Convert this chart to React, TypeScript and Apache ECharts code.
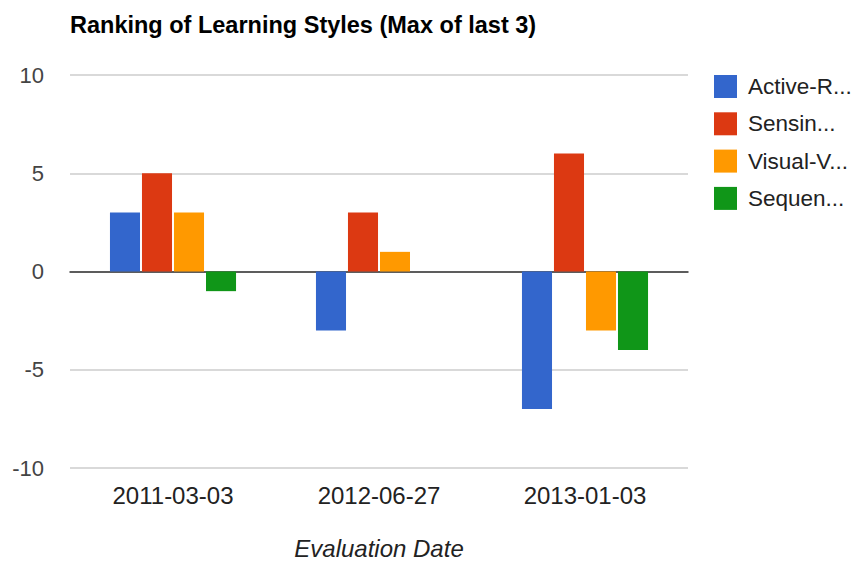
import React, { useEffect, useRef } from "react";
import * as echarts from "echarts";

const categories = ["2011-03-03", "2012-06-27", "2013-01-03"];
const seriesNames = ["Active-R...", "Sensin...", "Visual-V...", "Sequen..."];
const activeR = [3, -3, -7];
const sensing = [5, 3, 6];
const visualV = [3, 1, -3];
const sequential = [-1, 0, -4];
const colors = ["#3366cc", "#dc3912", "#ff9900", "#109618"];
const yTicks = { min: -10, max: 10, interval: 5 };

const FONT = "'Liberation Sans', Arial, sans-serif";

export default function App() {
  const ref = useRef<HTMLDivElement>(null);
  useEffect(() => {
    if (!ref.current) return;
    const chart = echarts.init(ref.current, undefined, { renderer: "svg" });
    const values = [activeR, sensing, visualV, sequential];
    chart.setOption({
      animation: false,
      title: {
        text: "Ranking of Learning Styles (Max of last 3)",
        left: 65,
        top: 8,
        textStyle: { fontFamily: FONT, fontSize: 23.5, fontWeight: "bold", color: "#000" },
      },
      legend: {
        orient: "vertical",
        left: 709,
        top: 70,
        itemWidth: 23,
        itemHeight: 23,
        itemGap: 14.3,
        icon: "rect",
        textStyle: {
          fontFamily: FONT,
          fontSize: 22.5,
          color: "#222",
          padding: [0, 0, 0, 6],
          overflow: "none",
        },
        data: seriesNames,
      },
      grid: { left: 70, right: 169, top: 75, bottom: 96 },
      xAxis: {
        type: "category",
        data: categories,
        name: "Evaluation Date",
        nameLocation: "middle",
        nameGap: 68,
        nameTextStyle: { fontFamily: FONT, fontSize: 24, fontStyle: "italic", color: "#222" },
        axisTick: { show: false },
        axisLine: { show: true, onZero: true, lineStyle: { color: "#333", width: 1.5 } },
        axisLabel: { fontFamily: FONT, fontSize: 24, color: "#222", margin: 15 },
      },
      yAxis: {
        type: "value",
        min: yTicks.min,
        max: yTicks.max,
        interval: yTicks.interval,
        axisLine: { show: false },
        axisTick: { show: false },
        splitLine: { lineStyle: { color: "#cccccc", width: 1.5 } },
        axisLabel: { fontFamily: FONT, fontSize: 22, color: "#444", margin: 26 },
      },
      series: seriesNames.map((name, i) => ({
        name,
        type: "bar",
        data: values[i],
        barCategoryGap: "38.8%",
        barGap: "6.5%",
        itemStyle: { color: colors[i] },
      })),
    });
    return () => chart.dispose();
  }, []);
  return (
    <div
      ref={ref}
      style={{ position: "absolute", left: 0, top: 0, width: 857, height: 565 }}
    />
  );
}
